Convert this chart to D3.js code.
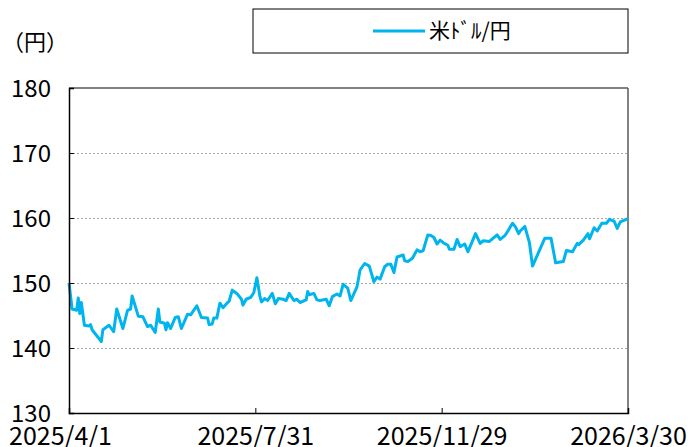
<!DOCTYPE html>
<html>
  <head>
    <meta charset="utf-8">
    <script src="https://d3js.org/d3.v7.min.js"></script>
    <style>
      body { margin: 0px; background: #fff; }
      text { font-family: "Noto Sans CJK JP", sans-serif; fill: #000; }
      .y-axis .tick text { font-size: 24px; }
      .x-axis .tick text { font-size: 25px; }
      .grid line { stroke: #a6a6a6; stroke-dasharray: 2,2; }
      .grid .domain { display: none; }
    </style>
  </head>
  <body>
    <svg width="688" height="447"></svg>
    <script>
      // USD/JPY
      const dates = [
        '2025-04-01','2025-04-03','2025-04-06','2025-04-07','2025-04-08','2025-04-09','2025-04-11','2025-04-14',
        '2025-04-15','2025-04-16','2025-04-18','2025-04-22','2025-04-23','2025-04-27','2025-04-30','2025-05-02',
        '2025-05-06','2025-05-09','2025-05-11','2025-05-12','2025-05-16','2025-05-19','2025-05-22','2025-05-24',
        '2025-05-27','2025-05-29','2025-05-30','2025-06-02','2025-06-03','2025-06-04','2025-06-06','2025-06-09',
        '2025-06-11','2025-06-13','2025-06-17','2025-06-19','2025-06-23','2025-06-26','2025-06-30','2025-07-01',
        '2025-07-03','2025-07-04','2025-07-06','2025-07-08','2025-07-10','2025-07-13','2025-07-14','2025-07-16',
        '2025-07-19','2025-07-22','2025-07-23','2025-07-25','2025-07-28','2025-07-30','2025-08-01','2025-08-03',
        '2025-08-04','2025-08-06','2025-08-08','2025-08-11','2025-08-13','2025-08-15','2025-08-18','2025-08-20',
        '2025-08-22','2025-08-25','2025-08-27','2025-08-29','2025-09-02','2025-09-03','2025-09-04','2025-09-07',
        '2025-09-09','2025-09-11','2025-09-15','2025-09-17','2025-09-19','2025-09-22','2025-09-24','2025-09-26',
        '2025-09-29','2025-10-01','2025-10-05','2025-10-07','2025-10-10','2025-10-13','2025-10-16','2025-10-18',
        '2025-10-20','2025-10-23','2025-10-25','2025-10-27','2025-10-29','2025-10-31','2025-11-04','2025-11-05',
        '2025-11-07','2025-11-10','2025-11-13','2025-11-15','2025-11-17','2025-11-20','2025-11-22','2025-11-24',
        '2025-11-26','2025-11-28','2025-11-30','2025-12-03','2025-12-04','2025-12-07','2025-12-09','2025-12-11',
        '2025-12-14','2025-12-16','2025-12-21','2025-12-24','2025-12-26','2025-12-30','2026-01-04','2026-01-06',
        '2026-01-09','2026-01-10','2026-01-14','2026-01-16','2026-01-18','2026-01-19','2026-01-22','2026-01-25',
        '2026-01-27','2026-01-30','2026-02-04','2026-02-08','2026-02-11','2026-02-16','2026-02-18','2026-02-22',
        '2026-02-25','2026-02-26','2026-03-01','2026-03-04','2026-03-05','2026-03-08','2026-03-10','2026-03-13',
        '2026-03-16','2026-03-18','2026-03-21','2026-03-23','2026-03-25','2026-03-30'
      ];
      const usdjpy = [
        150.0,146.0,145.8,147.7,145.3,147.0,143.5,143.4,
        143.6,142.8,142.2,141.0,142.8,143.5,142.5,146.0,
        143.0,145.8,146.0,148.0,144.9,144.8,143.3,143.5,
        142.4,146.0,144.0,143.8,142.8,143.9,143.0,144.7,
        144.8,143.0,145.2,145.1,146.5,144.7,144.6,143.6,
        143.7,144.6,144.6,146.9,146.2,147.0,147.2,148.9,
        148.4,147.5,146.6,147.5,147.8,148.5,150.8,147.9,
        147.1,147.6,147.3,148.4,146.8,147.6,147.5,147.3,
        148.4,147.3,147.5,147.0,147.4,148.7,148.2,148.4,
        147.4,147.3,147.5,146.5,147.9,148.3,148.0,149.8,
        149.2,147.3,149.4,152.0,153.0,152.6,150.2,150.9,
        150.6,152.5,152.9,152.9,151.6,154.0,154.3,153.4,
        153.3,153.8,155.1,154.8,155.0,157.4,157.3,157.0,
        156.0,156.6,156.2,155.8,155.2,155.2,156.7,155.6,
        156.0,154.8,157.6,156.1,156.5,156.4,157.4,156.7,
        157.3,157.6,159.2,158.6,157.6,158.0,158.7,156.2,
        152.6,154.2,156.9,156.9,153.1,153.3,155.0,154.8,
        156.1,155.9,156.6,157.6,156.8,158.5,158.0,159.2,
        159.2,159.8,159.5,158.4,159.4,159.9
      ];
      const yTicks = [130, 140, 150, 160, 170, 180];
      const xTicks = ['2025-04-01', '2025-07-31', '2025-11-29', '2026-03-30'];
      const seriesName = '米ﾄﾞﾙ/円';
      const unitLabel = '（円）';

      const parse = d3.timeParse('%Y-%m-%d');
      const data = dates.map((d, i) => ({ date: parse(d), value: usdjpy[i] }));

      const svg = d3.select('svg');
      const margin = { left: 69, right: 60, top: 88, bottom: 34 };
      const width = +svg.attr('width');
      const height = +svg.attr('height');
      const innerWidth = width - margin.left - margin.right;
      const innerHeight = height - margin.top - margin.bottom;

      const x = d3.scaleTime()
        .domain([parse(xTicks[0]), parse(xTicks[xTicks.length - 1])])
        .range([0, innerWidth]);
      const y = d3.scaleLinear()
        .domain([130, 180])
        .range([innerHeight, 0]);

      const g = svg.append('g')
          .attr('transform', `translate(${margin.left},${margin.top})`);

      // dotted grid
      g.append('g')
          .attr('class', 'grid')
          .call(d3.axisLeft(y).tickValues(yTicks.slice(1, -1)).tickSize(-innerWidth).tickFormat(''));

      // frame top / right
      g.append('line')
          .attr('x1', 0).attr('x2', innerWidth)
          .attr('y1', 0).attr('y2', 0)
          .attr('stroke', '#595959').attr('stroke-width', 1.5);
      g.append('line')
          .attr('x1', innerWidth).attr('x2', innerWidth)
          .attr('y1', 0).attr('y2', innerHeight)
          .attr('stroke', '#595959').attr('stroke-width', 1.5);

      const line = d3.line()
        .x(d => x(d.date))
        .y(d => y(d.value));

      g.append('path')
          .datum(data)
          .attr('fill', 'none')
          .attr('stroke', '#00b4ee')
          .attr('stroke-width', 3)
          .attr('stroke-linejoin', 'round')
          .attr('d', line);

      const yAxis = g.append('g')
          .attr('class', 'y-axis')
          .call(d3.axisLeft(y).tickValues(yTicks).tickSize(-5).tickPadding(18).tickFormat(d3.format('d')));
      const xAxis = g.append('g')
          .attr('class', 'x-axis')
          .attr('transform', `translate(0,${innerHeight})`)
          .call(d3.axisBottom(x).tickValues(xTicks.map(parse)).tickSize(-5)
            .tickFormat(d3.timeFormat('%Y/%-m/%-d')));
      [yAxis, xAxis].forEach(a => {
        a.selectAll('.domain').attr('stroke', '#000').attr('stroke-width', 1.5);
        a.selectAll('.tick line').attr('stroke', '#000');
        a.selectAll('.tick text').attr('fill', '#000');
      });
      yAxis.selectAll('.tick text').attr('dy', '0.36em');
      xAxis.selectAll('.tick text').attr('y', 32).attr('dy', 0)
          .attr('dx', (d, i) => i === 0 ? -9 : 0);

      svg.append('text')
          .attr('x', 2)
          .attr('y', 50)
          .style('font-size', '22px')
          .text(unitLabel);

      // legend
      const legend = svg.append('g').attr('transform', 'translate(253,9)');
      legend.append('rect')
          .attr('width', 375).attr('height', 44)
          .attr('fill', '#fff').attr('stroke', '#000').attr('stroke-width', 1);
      legend.append('line')
          .attr('x1', 120).attr('x2', 172).attr('y1', 22).attr('y2', 22)
          .attr('stroke', '#00b4ee').attr('stroke-width', 3);
      legend.append('text')
          .attr('x', 176).attr('y', 22).attr('dy', '0.35em')
          .style('font-size', '21px')
          .text(seriesName);
    </script>
  </body>
</html>
